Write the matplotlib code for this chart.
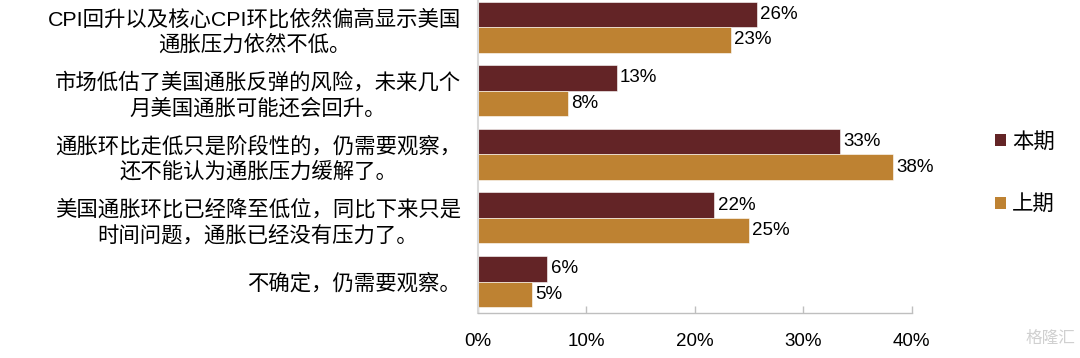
import matplotlib
matplotlib.use("Agg")
import matplotlib.pyplot as plt
from matplotlib.patches import Patch

plt.rcParams['font.family'] = ['Liberation Sans', 'Noto Sans CJK SC', 'DejaVu Sans']

categories = [
    "CPI回升以及核心CPI环比依然偏高显示美国\n通胀压力依然不低。",
    "市场低估了美国通胀反弹的风险，未来几个\n月美国通胀可能还会回升。",
    "通胀环比走低只是阶段性的，仍需要观察，\n还不能认为通胀压力缓解了。",
    "美国通胀环比已经降至低位，同比下来只是\n时间问题，通胀已经没有压力了。",
    "不确定，仍需要观察。",
]
series_names = ["本期", "上期"]
current = [25.7, 12.8, 33.4, 21.8, 6.4]
previous = [23.3, 8.3, 38.3, 25.0, 5.0]
xticks = [0, 10, 20, 30, 40]
xtick_labels = ["0%", "10%", "20%", "30%", "40%"]

c_cur = "#632426"
c_prev = "#BE8232"

W, H = 1080, 358
fig = plt.figure(figsize=(W / 100, H / 100), dpi=100)
ax = fig.add_axes([477.7 / W, 1 - 313.3 / H, (911.7 - 477.7) / W, 318 / H])

ys = list(range(len(categories)))
bh = 0.4
b1 = ax.barh([y - bh / 2 for y in ys], current, height=bh, color=c_cur,
             edgecolor="white", linewidth=0.4)
b2 = ax.barh([y + bh / 2 for y in ys], previous, height=bh, color=c_prev,
             edgecolor="white", linewidth=0.4)
ax.bar_label(b1, labels=[f"{v:.0f}%" for v in current], padding=2.5, fontsize=13.5)
ax.bar_label(b2, labels=[f"{v:.0f}%" for v in previous], padding=2.5, fontsize=13.5)

ax.set_ylim(len(categories) - 0.5, -0.5)
ax.set_xlim(0, 40)
ax.set_yticks(ys)
ax.set_yticklabels(categories, fontsize=15.4, linespacing=1.3)
for lab in ax.get_yticklabels():
    lab.set_multialignment('center')
ax.tick_params(axis='y', length=0, pad=12)
ax.set_xticks(xticks)
ax.set_xticklabels(xtick_labels, fontsize=13.5)
ax.tick_params(axis='x', direction='in', length=5, width=1, color='#BFBFBF', pad=14)

for s in ['top', 'right']:
    ax.spines[s].set_visible(False)
ax.spines['left'].set_color('#D9D9D9')
ax.spines['left'].set_linewidth(1.5)
ax.spines['bottom'].set_color('#BFBFBF')
ax.spines['bottom'].set_linewidth(1)

handles = [Patch(facecolor=c_cur, edgecolor='none'), Patch(facecolor=c_prev, edgecolor='none')]
fig.legend(handles, series_names, loc='center left', bbox_to_anchor=(995 / W, 1 - 173 / H),
           frameon=False, fontsize=15.4, handlelength=0.5, handleheight=0.5,
           handletextpad=0.3, labelspacing=2.0, borderpad=0, borderaxespad=0)

fig.text(1075 / W, 1 - 338 / H, "格隆汇", fontsize=12, color='#D0D0D0',
         ha='right', va='center')

fig.savefig("out.png", dpi=100)
